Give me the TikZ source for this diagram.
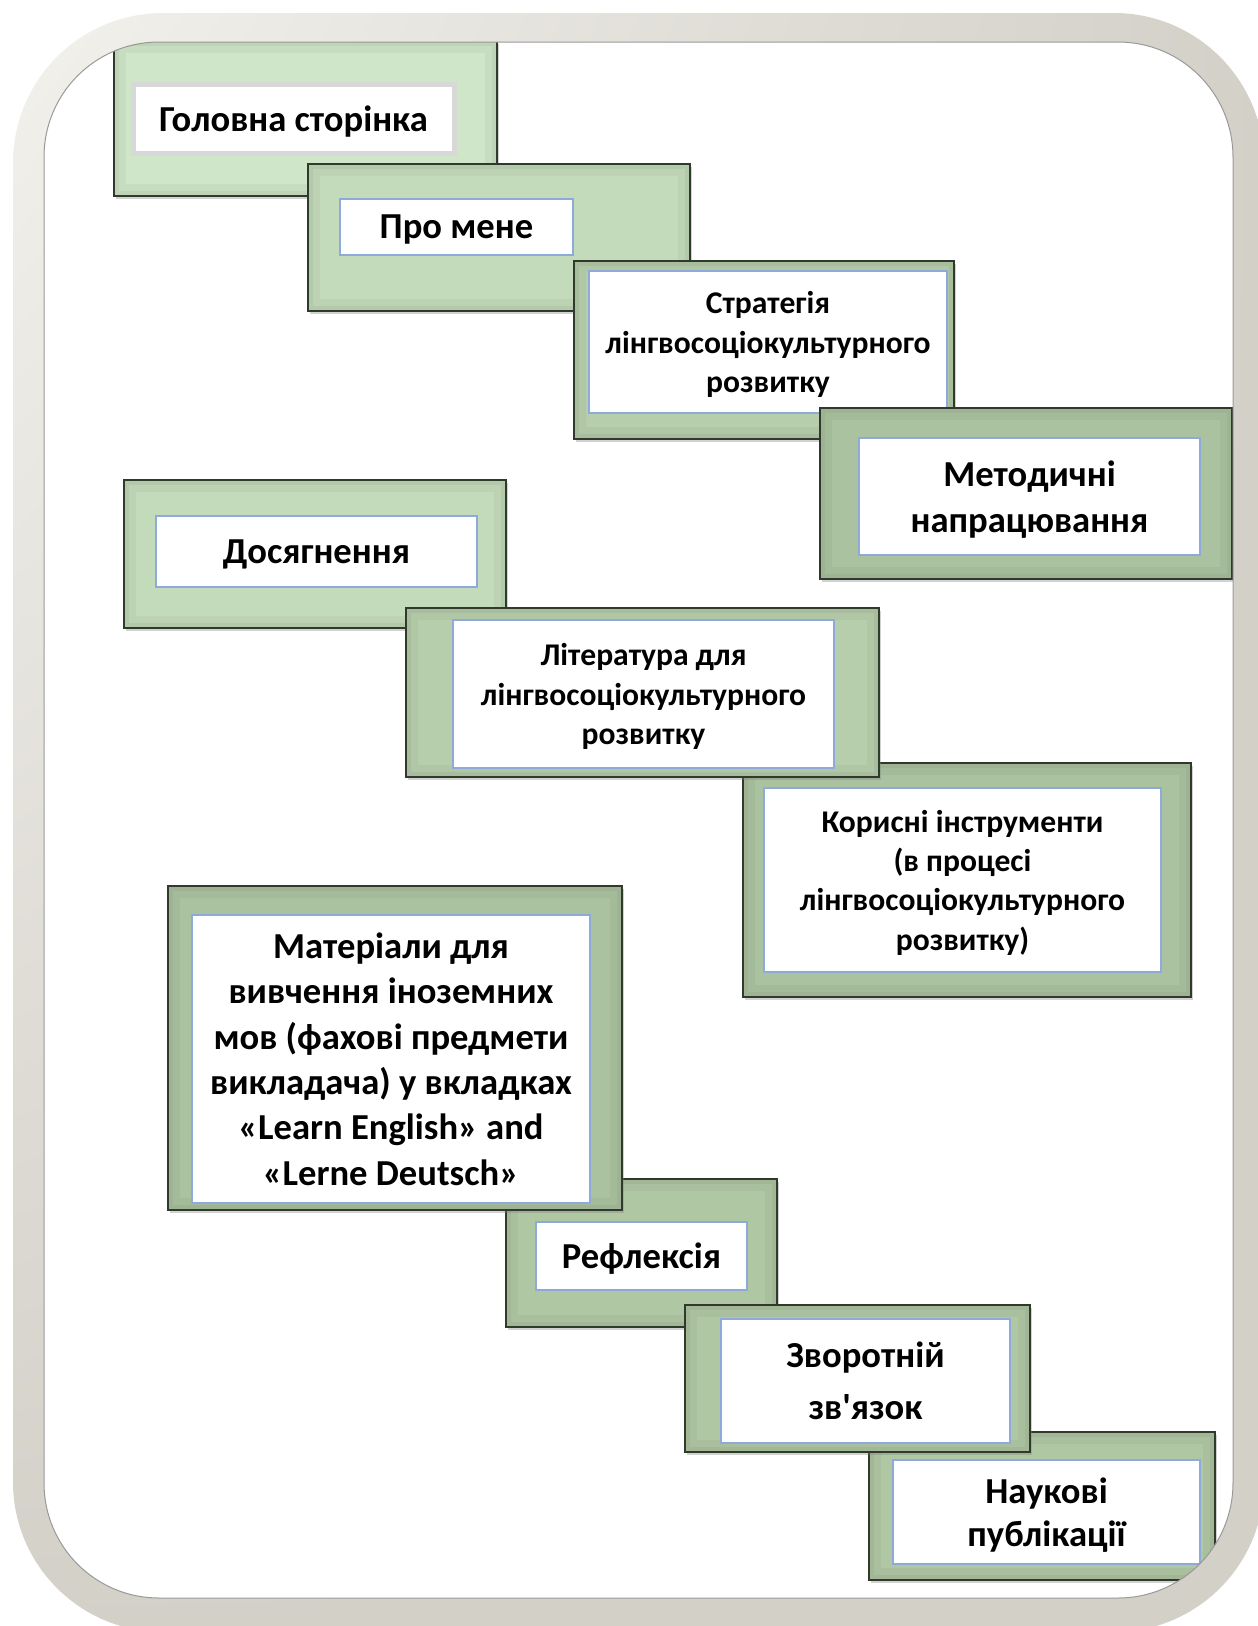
\documentclass[tikz,border=0pt]{standalone}
\usepackage{fontspec}
\setmainfont{Carlito}[Ligatures=TeXOff]
\usetikzlibrary{shadows,shadings,fit}
\definecolor{FrameLight}{HTML}{F2F1EC}
\definecolor{FrameDark}{HTML}{D3D0C8}
\definecolor{PanelEdge}{HTML}{2F3A2B}
\definecolor{CardEdge}{HTML}{8EAADB}
\definecolor{CardGrey}{HTML}{D8D8D8}
\definecolor{GreenA}{HTML}{D0E6C9}
\definecolor{GreenB}{HTML}{C4DBBB}
\definecolor{GreenC}{HTML}{B7CEAC}
\definecolor{GreenD}{HTML}{ABC2A0}
\definecolor{GreenE}{HTML}{B0C7A4}
\tikzset{
    panel/.style = {draw=PanelEdge, line width=1.6pt, inner sep=0pt, outer sep=0pt,
        drop shadow={shadow xshift=2pt, shadow yshift=-3pt, opacity=0.35},
        path picture={
            \draw[PanelEdge, opacity=0.05, line width=24pt]
                (path picture bounding box.south west) rectangle (path picture bounding box.north east);
            \draw[PanelEdge, opacity=0.06, line width=10pt]
                (path picture bounding box.south west) rectangle (path picture bounding box.north east);}},
    card/.style = {draw=CardEdge, line width=2pt, fill=white, align=center, inner sep=0pt,
        text depth=0pt, font=\bfseries\fontsize{36.6}{45.4}\selectfont},
    small card/.style = {card, font=\bfseries\fontsize{31.6}{39.4}\selectfont}
}

\begin{document}
\begin{tikzpicture}[x=1pt, y=-1pt]
    \useasboundingbox (0,0) rectangle (1258,1626);
    % frame
    \shade[rounded corners=150pt, upper left=FrameLight, upper right=FrameDark,
        lower left=FrameDark, lower right=FrameDark] (13,13) rectangle (1264,1632);
    \fill[white, rounded corners=115pt] (44,42) rectangle (1233,1598);
    \begin{scope}
        \clip[rounded corners=115pt] (44,42) rectangle (1233,1598);
        % first row of steps
        \node[panel, fill=GreenA, fit={(114,41) (497,196)}] (p1) {};
        \node[card, draw=CardGrey, line width=5pt, minimum width=321pt, minimum height=69pt] (c1) at (293.5,118.5) {Головна сторінка};
        \node[panel, fill=GreenB, fit={(308,164) (690,311)}] (p2) {};
        \node[card, minimum width=233pt, minimum height=56pt] (c2) at (456.5,227) {Про мене};
        \node[panel, fill=GreenC, fit={(574,261) (954,439)}] (p3) {};
        \node[small card, minimum width=358pt, minimum height=142pt] (c3) at (768,342) {Стратегія\\лінгвосоціокультурного\\розвитку};
        \node[panel, fill=GreenD, fit={(820,408) (1232,579)}] (p4) {};
        \node[card, minimum width=341pt, minimum height=117pt] (c4) at (1029.5,496.5) {Методичні\\напрацювання};
        % second row
        \node[panel, fill=GreenB, fit={(124,480) (506,628)}] (p5) {};
        \node[card, minimum width=321pt, minimum height=71pt] (c5) at (316.5,551.5) {Досягнення};
        \node[panel, fill=GreenD, fit={(743,763) (1191,997)}] (p7) {};
        \node[small card, minimum width=397pt, minimum height=184pt] (c7) at (962.5,880) {Корисні інструменти\\(в процесі\\лінгвосоціокультурного\\розвитку)};
        \node[panel, fill=GreenC, fit={(406,608) (879,777)}] (p6) {};
        \node[small card, minimum width=381pt, minimum height=148pt] (c6) at (643.5,694) {Література для\\лінгвосоціокультурного\\розвитку};
        % third row
        \node[panel, fill=GreenE, fit={(506,1179) (777,1327)}] (p9) {};
        \node[card, minimum width=211pt, minimum height=68pt] (c9) at (641.5,1256) {Рефлексія};
        \node[panel, fill=GreenD, fit={(168,886) (622,1210)}] (p8) {};
        \node[card, minimum width=398pt, minimum height=288pt] (c8) at (391,1059) {Матеріали для\\вивчення іноземних\\мов (фахові предмети\\викладача) у вкладках\\«Learn English» and\\«Lerne Deutsch»};
        \node[panel, fill=GreenE, fit={(869,1432) (1215,1580)}] (p11) {};
        \node[card, minimum width=307pt, minimum height=104pt, font=\bfseries\fontsize{36.6}{43.5}\selectfont] (c11) at (1046.5,1512) {Наукові\\публікації};
        \node[panel, fill=GreenE, fit={(685,1305) (1030,1452)}] (p10) {};
        \node[card, minimum width=289pt, minimum height=124pt, font=\bfseries\fontsize{36.6}{52}\selectfont] (c10) at (865.5,1381) {Зворотній\\зв'язок};
    \end{scope}
    \draw[gray!80, line width=1pt, rounded corners=115pt] (44,42) rectangle (1233,1598);
\end{tikzpicture}
\end{document}
